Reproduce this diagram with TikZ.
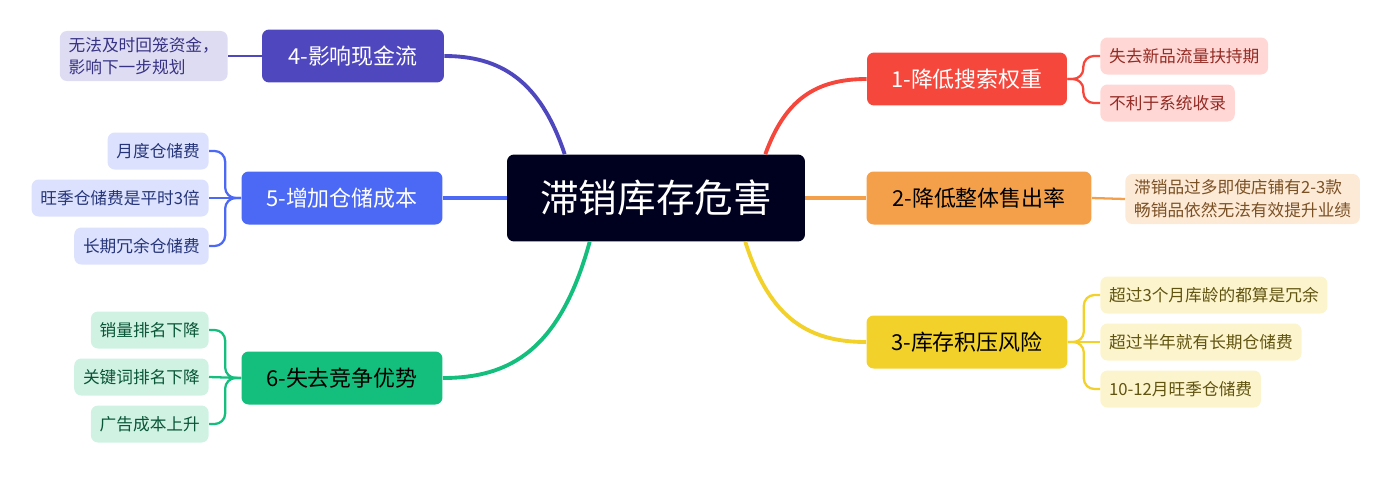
\documentclass[tikz,border=0pt]{standalone}
\usepackage{fontspec}
\setmainfont{Noto Sans CJK SC}
\usetikzlibrary{positioning,calc}
\definecolor{hubc}{HTML}{00001F}
\definecolor{redc}{HTML}{F5473C}\definecolor{redl}{HTML}{FFD8D6}
\definecolor{orac}{HTML}{F4A04A}\definecolor{oral}{HTML}{FDEAD6}
\definecolor{yelc}{HTML}{F2D12A}\definecolor{yell}{HTML}{FCF4CC}
\definecolor{indc}{HTML}{4F47BD}\definecolor{indl}{HTML}{DEDCF2}
\definecolor{bluc}{HTML}{4C69F5}\definecolor{blul}{HTML}{DCE2FD}
\definecolor{grnc}{HTML}{14BE7C}\definecolor{grnl}{HTML}{CFF2E3}
\tikzset{
    % central topic
    hub/.style={rectangle, rounded corners=4pt, fill=hubc, text=white,
           minimum width=5.96cm, minimum height=1.74cm, font=\fontsize{22}{26}\selectfont},
    % main branches
    branch/.style={rectangle, rounded corners=4pt, minimum height=1.06cm,
           font=\fontsize{12.5}{15}\selectfont},
    % leaf notes
    leaf/.style={rectangle, rounded corners=4pt, minimum height=0.74cm, inner xsep=5pt,
           align=left, font=\fontsize{9.5}{13}\selectfont},
    link/.style={line width=2.2pt},
    twig/.style={line width=1.3pt, rounded corners=6pt}
}
\begin{document}
\begin{tikzpicture}[x=0.02cm,y=-0.02cm]
    \useasboundingbox (0,0) rectangle (1393,501);
    \node[hub] (hub) at (656,198) {滞销库存危害};
    % right side
    \node[branch, fill=redc, text=white, minimum width=4cm] (b1) at (967,79) {1-降低搜索权重};
    \node[branch, fill=orac, minimum width=4.5cm] (b2) at (979,198) {2-降低整体售出率};
    \node[branch, fill=yelc, minimum width=4.02cm] (b3) at (967,342) {3-库存积压风险};
    \node[leaf, fill=redl, text=redc!60!black, anchor=west] (l11) at (1100,56) {失去新品流量扶持期};
    \node[leaf, fill=redl, text=redc!60!black, anchor=west] (l12) at (1100,103) {不利于系统收录};
    \node[leaf, fill=oral, text=orac!50!black, anchor=west] (l21) at (1125,199) {滞销品过多即使店铺有2-3款\\畅销品依然无法有效提升业绩};
    \node[leaf, fill=yell, text=yelc!40!black, anchor=west] (l31) at (1100,295) {超过3个月库龄的都算是冗余};
    \node[leaf, fill=yell, text=yelc!40!black, anchor=west] (l32) at (1100,342) {超过半年就有长期仓储费};
    \node[leaf, fill=yell, text=yelc!40!black, anchor=west] (l33) at (1100,389) {10-12月旺季仓储费};
    % left side
    \node[branch, fill=indc, text=white, minimum width=3.64cm] (b4) at (353,56) {4-影响现金流};
    \node[branch, fill=bluc, text=white, minimum width=4.02cm] (b5) at (342,198) {5-增加仓储成本};
    \node[branch, fill=grnc, minimum width=4.02cm] (b6) at (342,378) {6-失去竞争优势};
    \node[leaf, fill=indl, text=indc!70!black, anchor=east] (l41) at (228,56) {无法及时回笼资金，\\影响下一步规划};
    \node[leaf, fill=blul, text=bluc!50!black, anchor=east] (l51) at (209,151) {月度仓储费};
    \node[leaf, fill=blul, text=bluc!50!black, anchor=east] (l52) at (209,198) {旺季仓储费是平时3倍};
    \node[leaf, fill=blul, text=bluc!50!black, anchor=east] (l53) at (209,246) {长期冗余仓储费};
    \node[leaf, fill=grnl, text=grnc!45!black, anchor=east] (l61) at (209,330) {销量排名下降};
    \node[leaf, fill=grnl, text=grnc!45!black, anchor=east] (l62) at (209,377) {关键词排名下降};
    \node[leaf, fill=grnl, text=grnc!45!black, anchor=east] (l63) at (209,424) {广告成本上升};
    % links from hub
    \draw[link, redc] ($(hub.north east)+(-40,0)$) .. controls (785,100) and (815,79) .. (b1.west);
    \draw[link, orac] (hub.east) -- (b2.west);
    \draw[link, yelc] ($(hub.south east)+(-60,0)$) .. controls (770,320) and (810,342) .. (b3.west);
    \draw[link, indc] ($(hub.north west)+(58,0)$) .. controls (540,80) and (500,56) .. (b4.east);
    \draw[link, bluc] (hub.west) -- (b5.east);
    \draw[link, grnc] ($(hub.south west)+(83,0)$) .. controls (560,350) and (510,378) .. (b6.east);
    % twigs to leaves
    \draw[twig, redc] (b1.east) -- ++(16,0) |- (l11.west);
    \draw[twig, redc] (b1.east) -- ++(16,0) |- (l12.west);
    \draw[twig, orac] (b2.east) -- (l21.west);
    \draw[twig, yelc] (b3.east) -- ++(16,0) |- (l31.west);
    \draw[twig, yelc] (b3.east) -- (l32.west);
    \draw[twig, yelc] (b3.east) -- ++(16,0) |- (l33.west);
    \draw[twig, indc] (b4.west) -- (l41.east);
    \draw[twig, bluc] (b5.west) -- ++(-16,0) |- (l51.east);
    \draw[twig, bluc] (b5.west) -- (l52.east);
    \draw[twig, bluc] (b5.west) -- ++(-16,0) |- (l53.east);
    \draw[twig, grnc] (b6.west) -- ++(-16,0) |- (l61.east);
    \draw[twig, grnc] (b6.west) -- (l62.east);
    \draw[twig, grnc] (b6.west) -- ++(-16,0) |- (l63.east);
\end{tikzpicture}
\end{document}
